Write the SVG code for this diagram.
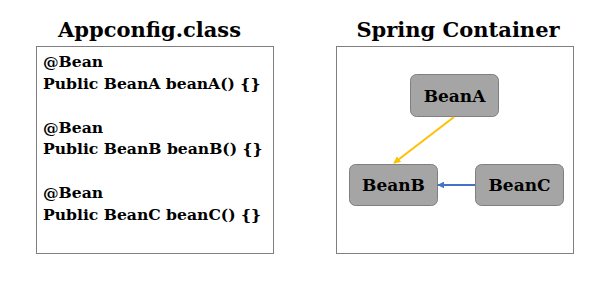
<svg xmlns="http://www.w3.org/2000/svg" width="614" height="291" viewBox="0 0 614 291">
<defs>
<style>
.title{font-family:"DejaVu Serif","Liberation Serif",serif;font-weight:bold;font-size:21px;fill:#000}
.code{font-family:"DejaVu Serif","Liberation Serif",serif;font-weight:bold;font-size:15.6px;fill:#000}
.frame{fill:#fff;stroke:#7f7f7f;stroke-width:1}
.node rect{fill:#a5a5a5;stroke:#7f7f7f;stroke-width:1}
.node text{font-family:"DejaVu Serif","Liberation Serif",serif;font-weight:bold;font-size:17px;fill:#000;text-anchor:middle}
</style>
<marker id="ay" viewBox="0 0 10 10" refX="9" refY="5" markerWidth="3.5" markerHeight="3.5" orient="auto"><path d="M0,0L10,5L0,10z" fill="#ffc000"/></marker>
<marker id="ab" viewBox="0 0 10 10" refX="9" refY="5" markerWidth="3.5" markerHeight="3.5" orient="auto"><path d="M0,0L10,5L0,10z" fill="#4472c4"/></marker>
</defs>
<rect width="614" height="291" fill="#fff"/>
<g id="appconfig">
<text class="title" x="149.5" y="37" text-anchor="middle">Appconfig.class</text>
<rect class="frame" x="36.5" y="46.5" width="237" height="207"/>
<text class="code" x="43" y="67">@Bean</text>
<text class="code" x="43" y="89">Public BeanA beanA() {}</text>
<text class="code" x="43" y="133">@Bean</text>
<text class="code" x="43" y="154">Public BeanB beanB() {}</text>
<text class="code" x="43" y="198">@Bean</text>
<text class="code" x="43" y="220">Public BeanC beanC() {}</text>
</g>
<g id="container">
<text class="title" x="458" y="37" text-anchor="middle">Spring Container</text>
<rect class="frame" x="336.5" y="46.5" width="237" height="207"/>
</g>
<g id="beanA" class="node"><rect x="410.5" y="74.5" width="88" height="42" rx="6"/><text x="454.5" y="102">BeanA</text></g>
<g id="beanB" class="node"><rect x="349.5" y="164.5" width="88" height="41" rx="6"/><text x="393.5" y="191">BeanB</text></g>
<g id="beanC" class="node"><rect x="475.5" y="164.5" width="88" height="41" rx="6"/><text x="519.5" y="191">BeanC</text></g>
<g id="connectors">
<line x1="454" y1="117" x2="394" y2="163" stroke="#ffc000" stroke-width="2" marker-end="url(#ay)"/>
<line x1="475" y1="185" x2="438" y2="185" stroke="#4472c4" stroke-width="2" marker-end="url(#ab)"/>
</g>
</svg>
